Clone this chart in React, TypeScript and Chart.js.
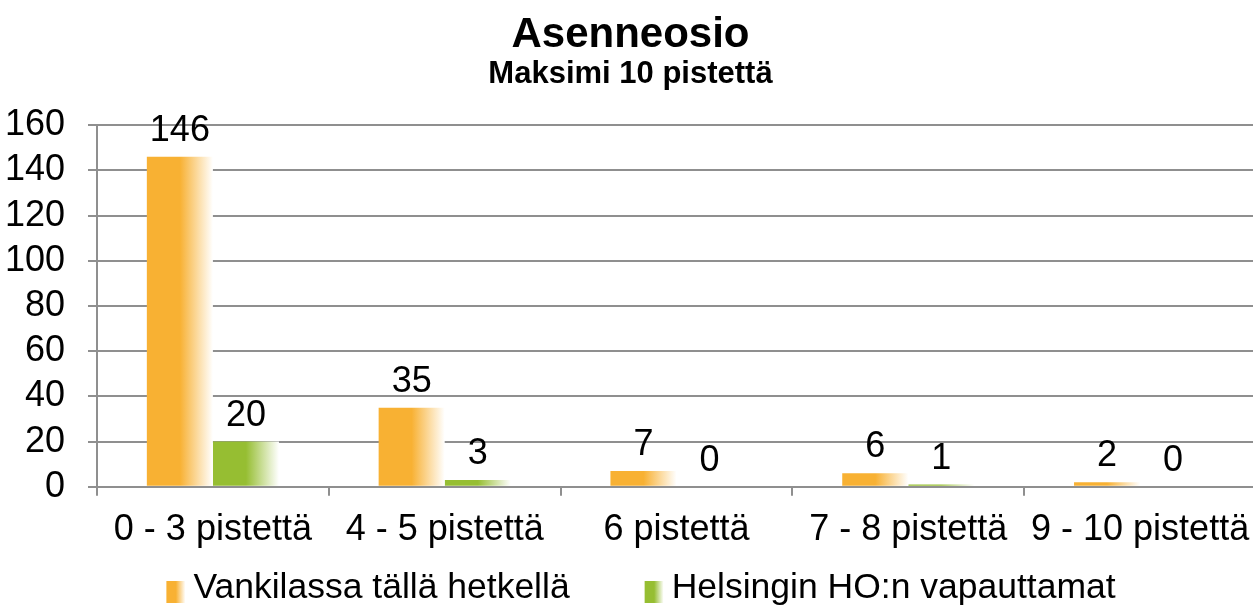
import React, { useEffect, useRef } from "react";
import { Chart, registerables } from "chart.js";

Chart.register(...registerables);

const categories = ["0 - 3 pistettä", "4 - 5 pistettä", "6 pistettä", "7 - 8 pistettä", "9 - 10 pistettä"];
const seriesNames = ["Vankilassa tällä hetkellä", "Helsingin HO:n vapauttamat"];
const vankilassa = [146, 35, 7, 6, 2];
const helsingin = [20, 3, 0, 1, 0];
const seriesColors = ["#F8B133", "#96BE32"];
const titleText = "Asenneosio";
const subtitleText = "Maksimi 10 pistettä";

const FONT = "'Liberation Sans', Arial, sans-serif";
const GRID = "#8f8f8f";
const CAT_PCT = 0.57;
const TEXT_SIZE = 36;
const LEGEND_SIZE = 35.5;
const CANVAS_W = 1278;

function barGradient(ctx: CanvasRenderingContext2D, left: number, right: number, color: string) {
  if (!isFinite(left) || !isFinite(right) || right <= left) return color;
  const g = ctx.createLinearGradient(left, 0, right, 0);
  g.addColorStop(0, color);
  g.addColorStop(0.5, color);
  g.addColorStop(1, "#ffffff");
  return g;
}

function scriptBg(context: any) {
  const chart = context.chart;
  const ds = context.datasetIndex;
  const color = seriesColors[ds];
  const x = chart.scales && chart.scales.x;
  if (!x || context.dataIndex === undefined) return color;
  const n = categories.length;
  const catW = (x.right - x.left) / n;
  const center = x.getPixelForValue(context.dataIndex);
  const barW = (catW * CAT_PCT) / 2;
  const left = center - (catW * CAT_PCT) / 2 + ds * barW;
  return barGradient(chart.ctx, left, left + barW, color);
}

const valueLabels = {
  id: "valueLabels",
  afterDatasetsDraw(chart: any) {
    const ctx = chart.ctx;
    ctx.save();
    ctx.font = `${TEXT_SIZE}px ${FONT}`;
    ctx.fillStyle = "#000";
    ctx.textAlign = "center";
    ctx.textBaseline = "alphabetic";
    chart.data.datasets.forEach((d: any, di: number) => {
      const meta = chart.getDatasetMeta(di);
      meta.data.forEach((el: any, i: number) => {
        ctx.fillText(String(d.data[i]), el.x, el.y - 16);
      });
    });
    ctx.restore();
  },
};

// Legend drawn from the dataset labels (box + text), centred under the chart.
const customLegend = {
  id: "customLegend",
  afterDraw(chart: any) {
    const ctx = chart.ctx;
    const boxW = 19;
    const boxH = 22;
    const textOffset = 27;
    const gap = 75;
    ctx.save();
    ctx.font = `${LEGEND_SIZE}px ${FONT}`;
    const items = chart.data.datasets.map((d: any) => ({
      text: d.label,
      w: textOffset + ctx.measureText(d.label).width,
    }));
    const total = items.reduce((s: number, it: any) => s + it.w, 0) + gap * (items.length - 1);
    let x = chart.width / 2 - total / 2 + 2;
    const textY = 588;
    items.forEach((it: any, i: number) => {
      ctx.fillStyle = barGradient(ctx, x, x + boxW, seriesColors[i]);
      ctx.fillRect(x, 581, boxW, boxH);
      ctx.fillStyle = "#000";
      ctx.textAlign = "left";
      ctx.textBaseline = "middle";
      ctx.fillText(it.text, x + textOffset, textY);
      x += it.w + gap;
    });
    ctx.restore();
  },
};

export default function App() {
  const ref = useRef<HTMLCanvasElement | null>(null);
  useEffect(() => {
    if (!ref.current) return;
    const chart = new Chart(ref.current, {
      type: "bar",
      data: {
        labels: categories,
        datasets: [
          { label: seriesNames[0], data: vankilassa, backgroundColor: scriptBg, borderWidth: 0 },
          { label: seriesNames[1], data: helsingin, backgroundColor: scriptBg, borderWidth: 0 },
        ],
      },
      options: {
        responsive: false,
        animation: false,
        layout: { padding: { left: 5, right: CANVAS_W - 1256, top: 0, bottom: 42 } },
        datasets: { bar: { categoryPercentage: CAT_PCT, barPercentage: 1 } },
        plugins: {
          title: {
            display: true,
            text: titleText,
            color: "#000",
            font: { family: FONT, size: 42, weight: "bold", lineHeight: 1.0 },
            padding: { top: 14, bottom: 0 },
          },
          subtitle: {
            display: true,
            text: subtitleText,
            color: "#000",
            font: { family: FONT, size: 31, weight: "bold", lineHeight: 1.2 },
            padding: { top: 0, bottom: 32 },
          },
          legend: { display: false },
          tooltip: { enabled: false },
        },
        scales: {
          x: {
            grid: {
              display: true,
              drawOnChartArea: false,
              drawTicks: true,
              tickLength: 9,
              color: GRID,
              lineWidth: 2,
            },
            border: { display: true, color: GRID, width: 2 },
            ticks: { color: "#000", font: { family: FONT, size: TEXT_SIZE }, padding: 13, maxRotation: 0, autoSkip: false },
          },
          y: {
            min: 0,
            max: 160,
            afterFit: (s: any) => {
              s.width = 92;
            },
            grid: { color: GRID, lineWidth: 2, drawTicks: true, tickLength: 9 },
            border: { display: true, color: GRID, width: 2 },
            ticks: { stepSize: 20, autoSkip: false, color: "#000", font: { family: FONT, size: TEXT_SIZE }, padding: 23 },
          },
        },
      },
      plugins: [valueLabels, customLegend],
    });
    return () => chart.destroy();
  }, []);
  return (
    <div style={{ position: "fixed", left: 0, top: 0, width: CANVAS_W, height: 607, background: "#fff", overflow: "hidden" }}>
      <canvas ref={ref} width={CANVAS_W} height={607} style={{ display: "block" }} />
    </div>
  );
}
